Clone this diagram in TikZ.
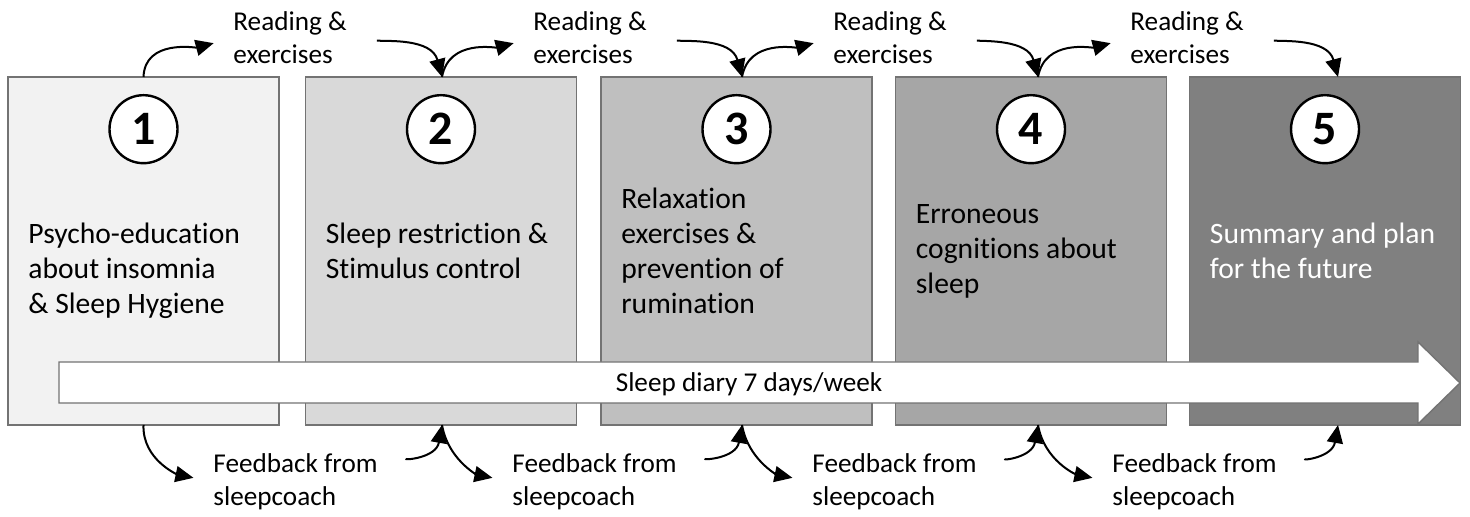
\documentclass[tikz,border=0pt]{standalone}
\usepackage{fontspec}
\setmainfont{Carlito}[Ligatures={NoCommon}]
\usetikzlibrary{arrows.meta, positioning}

\begin{document}
\begin{tikzpicture}[
    x=0.5pt, y=0.5pt,
    phase/.style={rectangle, draw=black!55, line width=0.7pt, minimum width=135.5pt, minimum height=174pt, outer sep=0pt},
    num/.style={circle, draw=black, line width=1.2pt, fill=white, minimum size=34pt, inner sep=0pt, font=\fontsize{24}{28}\selectfont\bfseries},
    desc/.style={align=left, inner sep=0pt, font=\fontsize{14.8}{17.5}\selectfont},
    note/.style={align=left, inner sep=0pt, font=\fontsize{13.6}{16.5}\selectfont},
    arrow/.style={-{Triangle[length=9pt, width=8pt]}, line width=1pt, black}
]

\useasboundingbox (0,0) rectangle (1470,517);

% Phases
\node[phase, fill=black!5] (phase1) at (143.5,266) {};
\node[phase, fill=black!15] (phase2) at (441,266) {};
\node[phase, fill=black!25] (phase3) at (736.5,266) {};
\node[phase, fill=black!35] (phase4) at (1031,266) {};
\node[phase, fill=black!50] (phase5) at (1325,266) {};

% Numbers
\node[num, below=8.5pt of phase1.north] (num1) {1};
\node[num, below=8.5pt of phase2.north] (num2) {2};
\node[num, below=8.5pt of phase3.north] (num3) {3};
\node[num, below=8.5pt of phase4.north] (num4) {4};
\node[num, below=8.5pt of phase5.north] (num5) {5};

% Contents
\node[desc, right=10pt of phase1.west, yshift=-9.75pt] (text1) {Psycho-education\\about insomnia\\\& Sleep Hygiene};
\node[desc, right=10pt of phase2.west] (text2) {Sleep restriction \&\\Stimulus control};
\node[desc, right=10pt of phase3.west] (text3) {Relaxation\\exercises \&\\prevention of\\rumination};
\node[desc, right=10pt of phase4.west] (text4) {Erroneous\\cognitions about\\sleep};
\node[desc, right=10pt of phase5.west, text=white] (text5) {Summary and plan\\for the future};

% Sleep diary
\draw[draw=black!55, line width=0.7pt, fill=white] (59,155) -- (1418,155) -- (1418,175) -- (1460,134) -- (1418,93) -- (1418,114) -- (59,114) -- cycle;
\node[note] (diary) at (749,133) {Sleep diary 7 days/week};

% Labels
\node[note, anchor=west] (read1) at (233,479) {Reading \&\\exercises};
\node[note, anchor=west] (read2) at (533,479) {Reading \&\\exercises};
\node[note, anchor=west] (read3) at (833,479) {Reading \&\\exercises};
\node[note, anchor=west] (read4) at (1130,479) {Reading \&\\exercises};
\node[note, anchor=west] (feed1) at (213,35) {Feedback from\\sleepcoach};
\node[note, anchor=west] (feed2) at (512,35) {Feedback from\\sleepcoach};
\node[note, anchor=west] (feed3) at (812,35) {Feedback from\\sleepcoach};
\node[note, anchor=west] (feed4) at (1112,35) {Feedback from\\sleepcoach};

% Arrows to reading
\draw[arrow, shorten >=10pt] (phase1.north) to[out=88, in=195] (read1.west);
\draw[arrow, shorten >=10pt] ([xshift=0.5pt]phase2.north) to[out=80, in=195] (read2.west);
\draw[arrow, shorten >=10pt] ([xshift=2.75pt]phase3.north) to[out=80, in=195] (read3.west);
\draw[arrow, shorten >=10pt] ([xshift=3.5pt]phase4.north) to[out=80, in=195] (read4.west);
\draw[arrow, shorten <=15pt] (read1.east) to[out=-5, in=105] ([xshift=0.5pt]phase2.north);
\draw[arrow, shorten <=15pt] (read2.east) to[out=-5, in=105] ([xshift=2.75pt]phase3.north);
\draw[arrow, shorten <=15pt] (read3.east) to[out=-5, in=105] ([xshift=3.5pt]phase4.north);
\draw[arrow, shorten <=15pt] (read4.east) to[out=-5, in=105] ([xshift=6.5pt]phase5.north);

% Arrows to feedback
\draw[arrow, shorten >=10pt] (phase1.south) to[out=-92, in=168] (feed1.west);
\draw[arrow, shorten >=10pt] ([xshift=0.5pt]phase2.south) to[out=-80, in=168] (feed2.west);
\draw[arrow, shorten >=10pt] ([xshift=2.75pt]phase3.south) to[out=-80, in=168] (feed3.west);
\draw[arrow, shorten >=10pt] ([xshift=3.5pt]phase4.south) to[out=-80, in=168] (feed4.west);
\draw[arrow, shorten <=18pt] (feed1.east) to[out=40, in=-100] ([xshift=0.5pt]phase2.south);
\draw[arrow, shorten <=18pt] (feed2.east) to[out=40, in=-100] ([xshift=2.75pt]phase3.south);
\draw[arrow, shorten <=18pt] (feed3.east) to[out=40, in=-100] ([xshift=3.5pt]phase4.south);
\draw[arrow, shorten <=18pt] (feed4.east) to[out=40, in=-100] ([xshift=6.5pt]phase5.south);

\end{tikzpicture}
\end{document}
